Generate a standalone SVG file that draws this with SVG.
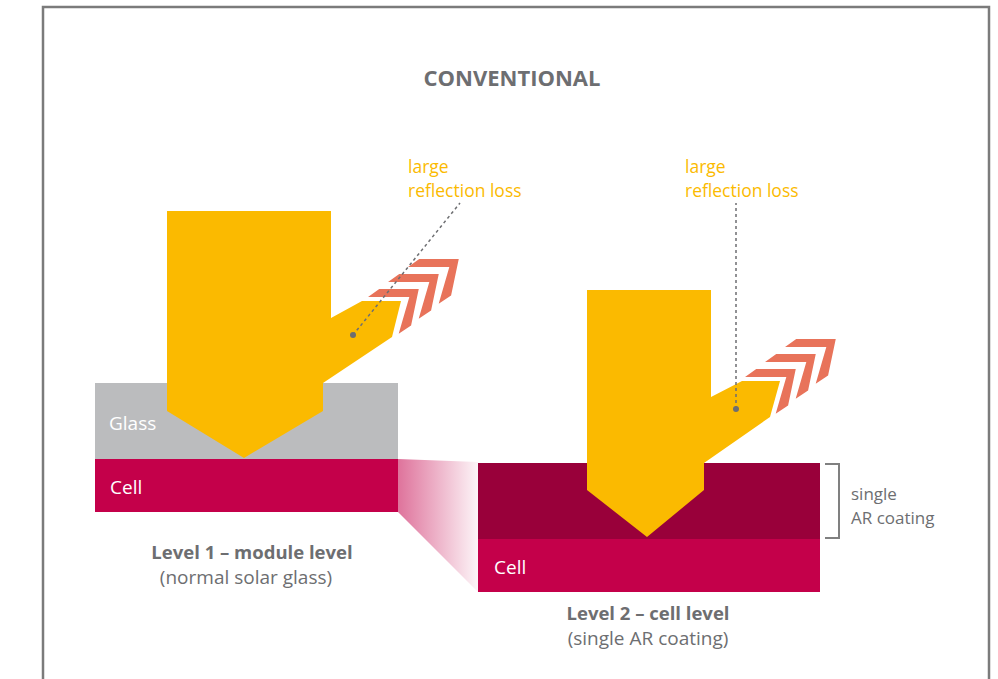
<svg xmlns="http://www.w3.org/2000/svg" width="998" height="679" viewBox="0 0 998 679">
<defs>
<style>
.t{font-family:"Open Sans","Noto Sans","Liberation Sans",sans-serif}
.title{font-size:22px;font-weight:bold;fill:#6d6e71}
.lbl{font-size:19px;fill:#6d6e71}
.lblb{font-size:18.5px;font-weight:bold;fill:#6d6e71}
.yl{font-size:17.5px;fill:#fbba00}
.wt{font-size:19px;fill:#ffffff}
.gr{font-size:17px;fill:#6d6e71}
.beam{fill:#fbba00}
.chev{fill:#e8735a;stroke:#ffffff;stroke-width:2;stroke-linejoin:miter}
.lead{stroke:#6d6e71;stroke-width:1.5;stroke-dasharray:3 3;fill:none}
</style>
<linearGradient id="fade" x1="0" y1="0" x2="1" y2="0">
<stop offset="0" stop-color="#c4004a" stop-opacity="0.55"/>
<stop offset="1" stop-color="#c4004a" stop-opacity="0.04"/>
</linearGradient>
<polygon id="chv" points="-41,0 0,0 -8,38 -23,48 -12,10 -55,10"/>
</defs>
<rect width="998" height="679" fill="#ffffff"/>
<path d="M43,679 V7 H989 V679" fill="none" stroke="#7b7b7b" stroke-width="2.5"/>
<text class="t title" x="512" y="86" text-anchor="middle">CONVENTIONAL</text>

<g id="level1">
<rect x="95" y="383" width="303" height="76" fill="#bbbcbe"/>
<rect x="95" y="459" width="303" height="53" fill="#c4004a"/>
<text class="t wt" x="109" y="430">Glass</text>
<text class="t wt" x="110" y="494">Cell</text>
<polygon class="beam" points="167,211 331,211 331,318 362,301 401,301 392,337 323,383 323,411 244,458 167,411"/>
<g class="chev">
<use href="#chv" x="420" y="288"/>
<use href="#chv" x="440" y="273"/>
<use href="#chv" x="460" y="258"/>
</g>
<text class="t lblb" x="252" y="559" text-anchor="middle">Level 1 – module level</text>
<text class="t lbl" x="246" y="584" text-anchor="middle">(normal solar glass)</text>
</g>

<g id="zoom">
<polygon points="398,459 478,462 478,592 398,512" fill="url(#fade)"/>
</g>

<g id="level2">
<rect x="478" y="463" width="342" height="76" fill="#99003a"/>
<rect x="478" y="539" width="342" height="53" fill="#c4004a"/>
<text class="t wt" x="494" y="574">Cell</text>
<polygon class="beam" points="587,290 711,290 711,397 742,381 780,381 770,417 704,463 704,490 647,537 587,490"/>
<g class="chev">
<use href="#chv" x="797" y="368"/>
<use href="#chv" x="817" y="353"/>
<use href="#chv" x="837" y="338"/>
</g>
<text class="t lblb" x="648" y="620" text-anchor="middle">Level 2 – cell level</text>
<text class="t lbl" x="648" y="645" text-anchor="middle">(single AR coating)</text>
</g>

<g id="bracket">
<path d="M825,464 H839 V538 H825" fill="none" stroke="#808080" stroke-width="2"/>
<text class="t gr" x="851" y="500">single</text>
<text class="t gr" x="851" y="524">AR coating</text>
</g>

<g id="callout1">
<text class="t yl" x="408" y="173">large</text>
<text class="t yl" x="408" y="197">reflection loss</text>
</g>
<g id="callout2">
<text class="t yl" x="685" y="173">large</text>
<text class="t yl" x="685" y="197">reflection loss</text>
</g>

<g id="connectors">
<line class="lead" x1="353" y1="335" x2="460" y2="203"/>
<circle cx="353" cy="335" r="3" fill="#6d6e71"/>
<line class="lead" x1="736" y1="409" x2="736" y2="203"/>
<circle cx="736" cy="409" r="3" fill="#6d6e71"/>
</g>
</svg>
